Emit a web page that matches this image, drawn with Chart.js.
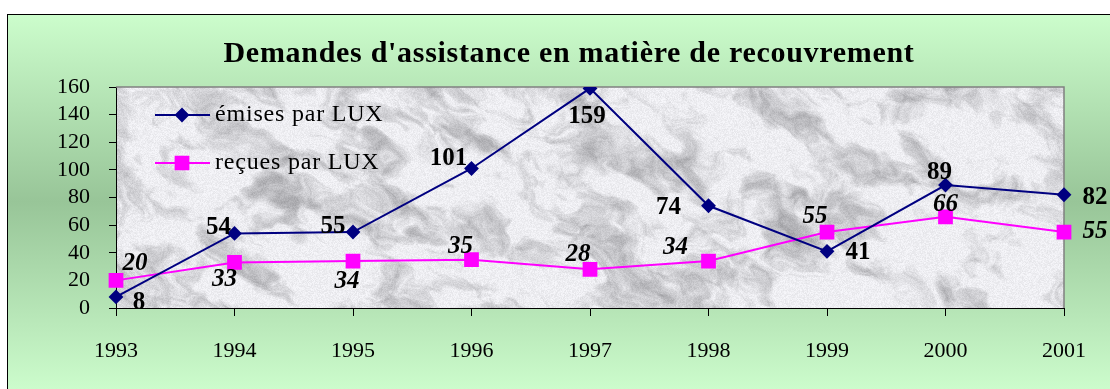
<!DOCTYPE html>
<html>
<head>
<meta charset="utf-8">
<script src="https://cdn.jsdelivr.net/npm/chart.js@4.4.1/dist/chart.umd.min.js"></script>
<style>
  body { margin: 0; background: #fff; }
  canvas { display: block; }
</style>
</head>
<body>
<canvas id="chart" width="1110" height="389"></canvas>
<script>
const years = ["1993", "1994", "1995", "1996", "1997", "1998", "1999", "2000", "2001"];
const emises = [8, 54, 55, 101, 159, 74, 41, 89, 82];
const recues = [20, 33, 34, 35, 28, 34, 55, 66, 55];
const yMin = 0;
const yMax = 160;
const yStep = 20;

const SERIF = '"Liberation Serif", "Times New Roman", serif';
const NAVY = "#000080";
const MAGENTA = "#ff00ff";

// where each value label sits relative to its point
const emisesLabelShift = [[23, 6], [-16, -6], [-20, -5], [-23, -10], [-3, 28], [-40, 2], [31, 1], [-6, -13], [31, 3]];
const recuesLabelShift = [[19, -17], [-10, 17], [-6, 21], [-11, -13], [-12, -15], [-33, -13], [-12, -15], [0, -12], [31, 0]];

// grey marble texture for the plot area
function makeMarble(w, h) {
  const c = document.createElement("canvas");
  c.width = w;
  c.height = h;
  const g = c.getContext("2d");
  let seed = 98765;
  const rnd = () => {
    seed = (seed * 1664525 + 1013904223) >>> 0;
    return seed / 4294967296;
  };
  const N = 256;
  const lattice = new Float32Array(N * N);
  for (let i = 0; i < lattice.length; i++) lattice[i] = rnd();
  const lat = (i, j) => lattice[((j & (N - 1)) * N) + (i & (N - 1))];
  const smooth = (t) => t * t * (3 - 2 * t);
  const noise = (x, y) => {
    const xi = Math.floor(x), yi = Math.floor(y);
    const xf = smooth(x - xi), yf = smooth(y - yi);
    const a = lat(xi, yi), b = lat(xi + 1, yi);
    const c2 = lat(xi, yi + 1), d = lat(xi + 1, yi + 1);
    const top = a + (b - a) * xf;
    return top + ((c2 + (d - c2) * xf) - top) * yf;
  };
  const fbm = (x, y, oct) => {
    let n = 0, amp = 1, f = 1, tot = 0;
    for (let o = 0; o < oct; o++) {
      n += amp * noise(x * f, y * f);
      tot += amp;
      amp *= 0.6;
      f *= 2.03;
    }
    return n / tot;
  };
  const img = g.createImageData(w, h);
  const ang = -0.45;
  const ca = Math.cos(ang), sa = Math.sin(ang);
  for (let y = 0; y < h; y++) {
    for (let x = 0; x < w; x++) {
      const u = (x * ca - y * sa) / 42;
      const v = (x * sa + y * ca) / 26;
      const wu = fbm(u * 0.7 + 17.3, v * 0.7 + 3.1, 3) - 0.5;
      const wv = fbm(u * 0.7 + 5.7, v * 0.7 + 41.9, 3) - 0.5;
      const n = fbm(u + wu * 2.2, v + wv * 2.2, 6);
      let dark = Math.max(0, n - 0.46) * 2.6;
      dark = Math.min(1, dark);
      const val = 238 - dark * 72 + (rnd() - 0.5) * 18;
      const p = (y * w + x) * 4;
      img.data[p] = val;
      img.data[p + 1] = val;
      img.data[p + 2] = val + 4;
      img.data[p + 3] = 255;
    }
  }
  g.putImageData(img, 0, 0);
  return c;
}

let marble = null;

const backdrop = {
  id: "backdrop",
  beforeDraw(chart) {
    const ctx = chart.ctx;
    const a = chart.chartArea;
    ctx.save();
    ctx.fillStyle = "#fff";
    ctx.fillRect(0, 0, chart.width, chart.height);
    const grad = ctx.createLinearGradient(0, 14, 0, 389);
    grad.addColorStop(0, "#ccfdcc");
    grad.addColorStop(0.5, "#98c598");
    grad.addColorStop(1, "#ccfccc");
    ctx.fillStyle = grad;
    ctx.fillRect(7, 14, chart.width, chart.height);
    ctx.strokeStyle = "#000";
    ctx.lineWidth = 1;
    ctx.strokeRect(7.5, 14.5, chart.width + 20, chart.height + 20);

    if (!marble) marble = makeMarble(Math.round(a.right - a.left), Math.round(a.bottom - a.top));
    ctx.drawImage(marble, a.left, a.top);

    ctx.fillStyle = "#000";
    ctx.font = "bold 30px " + SERIF;
    ctx.letterSpacing = "0.7px";
    ctx.textAlign = "center";
    ctx.textBaseline = "alphabetic";
    ctx.fillText("Demandes d'assistance en matière de recouvrement", 569, 62);
    ctx.restore();
  },
  beforeDatasetsDraw(chart) {
    const ctx = chart.ctx;
    const a = chart.chartArea;
    ctx.save();
    ctx.strokeStyle = "#808080";
    ctx.lineWidth = 1.5;
    ctx.beginPath();
    ctx.moveTo(a.left, a.top);
    ctx.lineTo(a.right, a.top);
    ctx.lineTo(a.right, a.bottom);
    ctx.stroke();
    ctx.restore();
  }
};

const valueLabels = {
  id: "valueLabels",
  afterDatasetsDraw(chart) {
    const ctx = chart.ctx;
    ctx.save();
    ctx.fillStyle = "#000";
    ctx.textAlign = "center";
    ctx.textBaseline = "middle";
    chart.data.datasets.forEach((ds, di) => {
      const meta = chart.getDatasetMeta(di);
      ctx.font = (di === 1 ? "italic bold 25px " : "bold 25px ") + SERIF;
      meta.data.forEach((pt, i) => {
        const s = ds.labelShift[i];
        ctx.fillText(String(ds.data[i]), pt.x + s[0], pt.y + s[1]);
      });
    });
    ctx.restore();
  }
};

const insideLegend = {
  id: "insideLegend",
  afterDatasetsDraw(chart) {
    const ctx = chart.ctx;
    const a = chart.chartArea;
    const x0 = a.left + 39;
    const rows = [a.top + 28, a.top + 76];
    ctx.save();
    chart.data.datasets.forEach((ds, di) => {
      const y = rows[di];
      ctx.strokeStyle = ds.borderColor;
      ctx.lineWidth = 2;
      ctx.beginPath();
      ctx.moveTo(x0, y);
      ctx.lineTo(x0 + 55, y);
      ctx.stroke();
      Chart.helpers.drawPoint(ctx, {
        pointStyle: ds.pointStyle,
        radius: ds.pointRadius,
        borderWidth: 1
      }, x0 + 27, y);
      ctx.fillStyle = ds.pointBackgroundColor;
      ctx.fill();
      ctx.fillStyle = "#000";
      ctx.font = "24px " + SERIF;
      ctx.letterSpacing = "0.8px";
      ctx.textAlign = "left";
      ctx.textBaseline = "middle";
      ctx.fillText(ds.label, x0 + 60, y);
    });
    ctx.restore();
  }
};

new Chart(document.getElementById("chart"), {
  type: "line",
  data: {
    labels: years,
    datasets: [
      {
        label: "émises par LUX",
        data: emises,
        labelShift: emisesLabelShift,
        borderColor: NAVY,
        backgroundColor: NAVY,
        pointBackgroundColor: NAVY,
        pointBorderColor: NAVY,
        pointStyle: "rectRot",
        pointRadius: 6,
        borderWidth: 2,
        tension: 0,
      },
      {
        label: "reçues par LUX",
        data: recues,
        labelShift: recuesLabelShift,
        borderColor: MAGENTA,
        backgroundColor: MAGENTA,
        pointBackgroundColor: MAGENTA,
        pointBorderColor: MAGENTA,
        pointStyle: "rect",
        pointRadius: 9,
        borderWidth: 2,
        tension: 0,
      },
    ],
  },
  options: {
    responsive: false,
    animation: false,
    events: [],
    layout: {
      padding: { top: 87, right: 46, left: 0, bottom: 0 },
    },
    plugins: {
      legend: { display: false },
      title: { display: false },
      tooltip: { enabled: false },
    },
    scales: {
      x: {
        offset: false,
        afterFit: (scale) => { scale.height = 81; },
        border: { display: true, color: "#000", width: 1 },
        grid: { display: true, drawOnChartArea: false, drawTicks: true, tickLength: 8, color: "#000" },
        ticks: {
          padding: 22,
          maxRotation: 0,
          autoSkip: false,
          color: "#000",
          font: { family: SERIF, size: 22 },
        },
      },
      y: {
        min: yMin,
        max: yMax,
        afterFit: (scale) => { scale.width = 116; },
        border: { display: true, color: "#000", width: 1 },
        grid: { display: true, drawOnChartArea: false, drawTicks: true, tickLength: 7, color: "#000" },
        ticks: {
          stepSize: yStep,
          autoSkip: false,
          padding: 19,
          color: "#000",
          font: { family: SERIF, size: 22 },
        },
      },
    },
  },
  plugins: [backdrop, valueLabels, insideLegend],
});
</script>
</body>
</html>
